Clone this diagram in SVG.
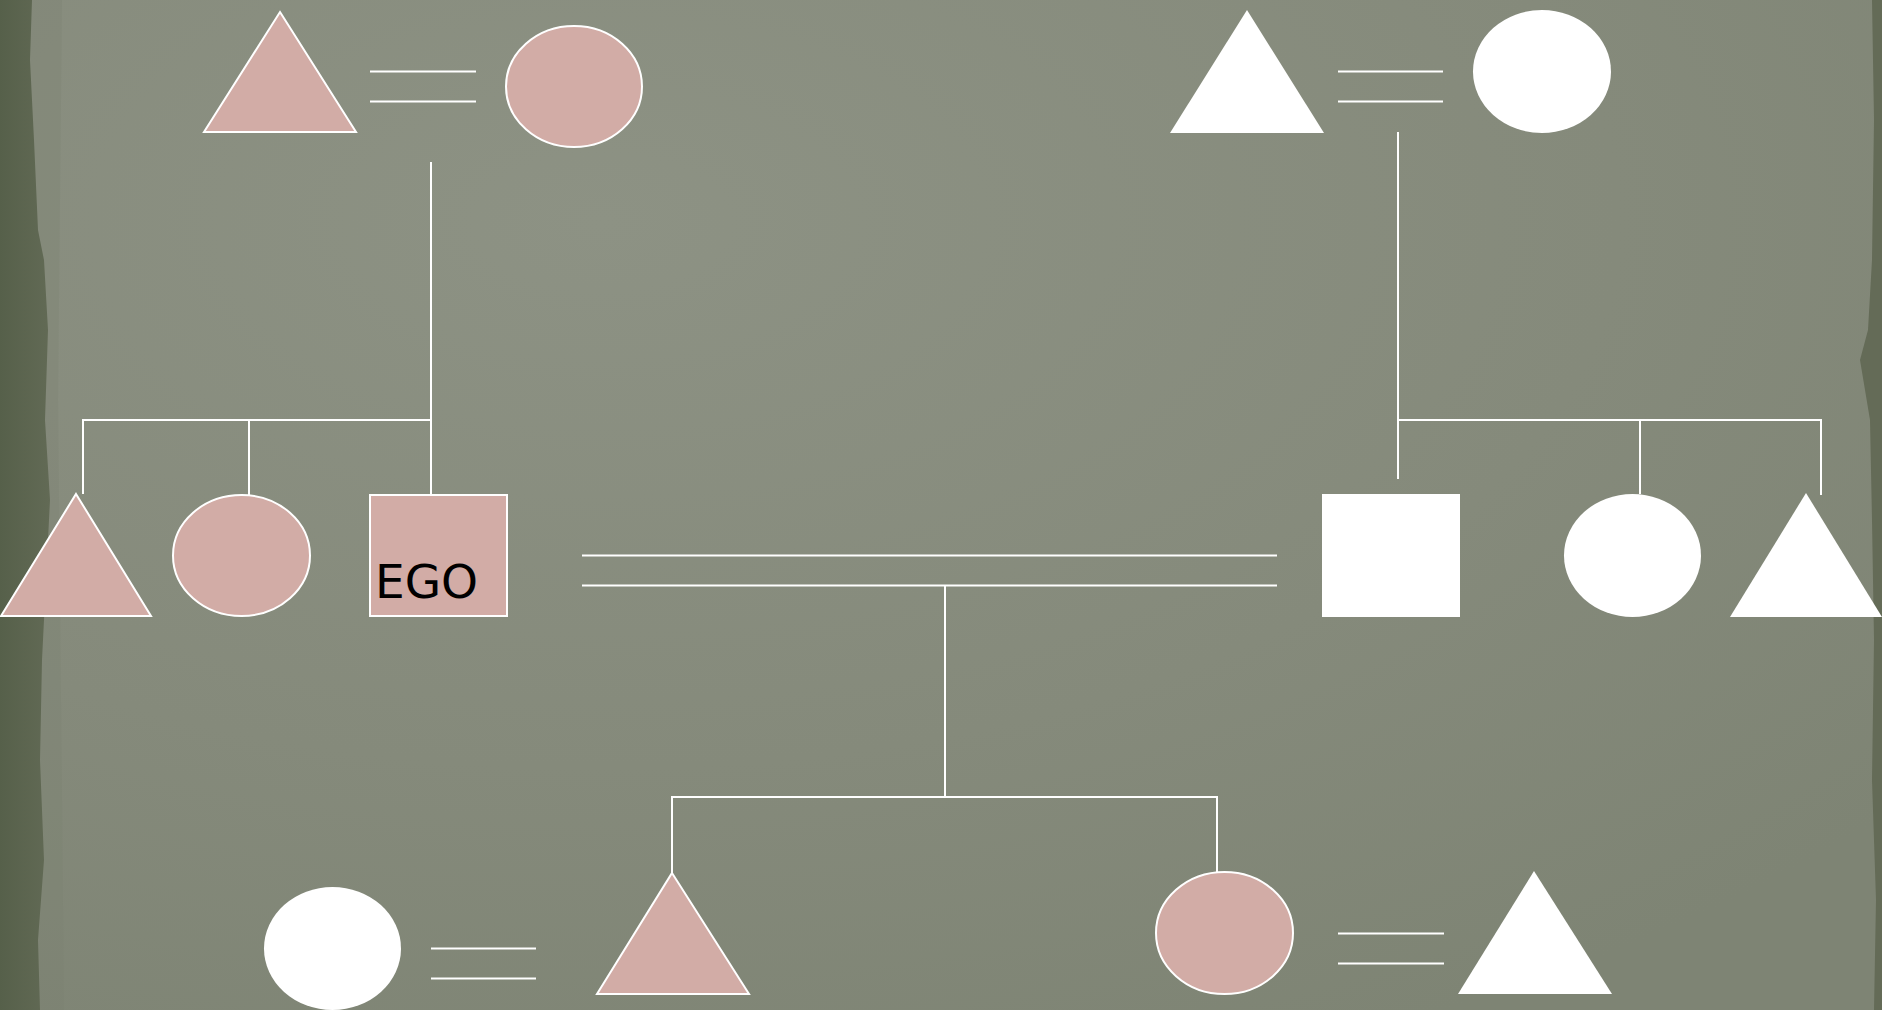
<svg xmlns="http://www.w3.org/2000/svg" width="1882" height="1010" viewBox="0 0 1882 1010">
  <defs>
    <radialGradient id="bgGrad" cx="0.32" cy="0.22" r="0.9">
      <stop offset="0" stop-color="#8d9284"/>
      <stop offset="0.6" stop-color="#858a7b"/>
      <stop offset="1" stop-color="#7e8474"/>
    </radialGradient>
    <linearGradient id="leftEdge" x1="0" y1="0" x2="1" y2="0">
      <stop offset="0" stop-color="#56604a"/>
      <stop offset="1" stop-color="#626a55"/>
    </linearGradient>
  </defs>
  <style>
    .pink { fill: #d2aca6; stroke: #ffffff; stroke-width: 2; }
    .white { fill: #ffffff; stroke: none; }
    .conn line, .conn polyline { stroke: #ffffff; stroke-width: 2; fill: none; }
    .label { font-family: "DejaVu Sans", Verdana, sans-serif; font-size: 47px; fill: #000000; }
  </style>

  <!-- background -->
  <rect x="0" y="0" width="1882" height="1010" fill="url(#bgGrad)"/>
  <path d="M0,0 L62,0 L60,200 L58,400 L60,600 L62,800 L64,1010 L0,1010 Z" fill="#7a8070" opacity="0.3"/>
  <path d="M0,0 L32,0 L30,60 L34,140 L38,230 L44,260 L48,330 L45,420 L50,500 L46,580 L42,660 L40,760 L44,860 L38,940 L40,1010 L0,1010 Z" fill="url(#leftEdge)"/>
  <path d="M1882,0 L1872,0 L1874,120 L1872,260 L1868,330 L1860,360 L1870,420 L1872,520 L1874,640 L1872,780 L1876,900 L1874,1010 L1882,1010 Z" fill="#646b57"/>

  <!-- connectors -->
  <g id="connectors" class="conn">
    <line x1="370" y1="71.5" x2="476" y2="71.5"/>
    <line x1="370" y1="101.5" x2="476" y2="101.5"/>
    <line x1="1338" y1="71.5" x2="1443" y2="71.5"/>
    <line x1="1338" y1="101.5" x2="1443" y2="101.5"/>
    <line x1="431" y1="162" x2="431" y2="495"/>
    <polyline points="83,494 83,420 431,420"/>
    <line x1="249" y1="420" x2="249" y2="495"/>
    <line x1="1398" y1="132" x2="1398" y2="479"/>
    <polyline points="1398,420 1821,420 1821,495"/>
    <line x1="1640" y1="420" x2="1640" y2="494"/>
    <line x1="582" y1="555.5" x2="1277" y2="555.5"/>
    <line x1="582" y1="585.5" x2="1277" y2="585.5"/>
    <line x1="945" y1="586" x2="945" y2="797"/>
    <polyline points="672,873 672,797 1217,797 1217,872"/>
    <line x1="431" y1="948.5" x2="536" y2="948.5"/>
    <line x1="431" y1="978.5" x2="536" y2="978.5"/>
    <line x1="1338" y1="933.5" x2="1444" y2="933.5"/>
    <line x1="1338" y1="963.5" x2="1444" y2="963.5"/>
  </g>

  <!-- generation 1 -->
  <g id="pat-grandfather"><polygon class="pink" points="280,12 356,132 204,132"/></g>
  <g id="pat-grandmother"><ellipse class="pink" cx="574" cy="86.5" rx="68" ry="60.5"/></g>
  <g id="mat-grandfather"><polygon class="white" points="1247,10 1324,133 1170,133"/></g>
  <g id="mat-grandmother"><ellipse class="white" cx="1542" cy="71.5" rx="69" ry="61.5"/></g>

  <!-- generation 2 -->
  <g id="pat-uncle"><polygon class="pink" points="76,494 151,616 1,616"/></g>
  <g id="pat-aunt"><ellipse class="pink" cx="241.5" cy="555.5" rx="68.5" ry="60.5"/></g>
  <g id="ego">
    <rect class="pink" x="370" y="495" width="137" height="121"/>
    <text class="label" x="375" y="598">EGO</text>
  </g>
  <g id="spouse"><rect class="white" x="1322" y="494" width="138" height="123"/></g>
  <g id="mat-aunt"><ellipse class="white" cx="1632.5" cy="555.5" rx="68.5" ry="61.5"/></g>
  <g id="mat-uncle"><polygon class="white" points="1806,493 1882,617 1730,617"/></g>

  <!-- generation 3 -->
  <g id="son-wife"><ellipse class="white" cx="332.5" cy="948.5" rx="68.5" ry="61.5"/></g>
  <g id="son"><polygon class="pink" points="672,873 749,994 597,994"/></g>
  <g id="daughter"><ellipse class="pink" cx="1224.5" cy="933" rx="68.5" ry="61"/></g>
  <g id="daughter-husband"><polygon class="white" points="1534,871 1612,994 1458,994"/></g>
</svg>
